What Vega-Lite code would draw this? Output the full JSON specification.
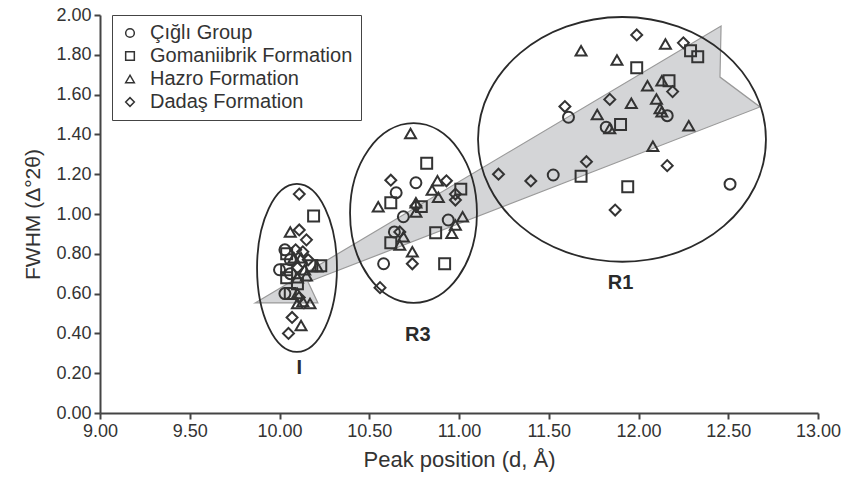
{
  "$schema": "https://vega.github.io/schema/vega-lite/v6.json",
  "width": 718,
  "height": 398,
  "autosize": {"type": "none"},
  "padding": {"left": 100, "top": 15, "right": 25, "bottom": 71},
  "background": "white",
  "config": {
    "view": {"stroke": null},
    "font": "Liberation Sans",
    "axis": {"grid": false, "domainColor": "#444", "domainWidth": 2, "tickColor": "#444", "tickWidth": 2, "tickSize": 6, "labelColor": "#333", "titleColor": "#333", "labelFont": "Liberation Sans", "titleFont": "Liberation Sans", "titleFontWeight": "normal", "labelFlush": false, "labelOverlap": false}
  },
  "datasets": {
    "arrow": [
      {"x": 9.864, "y": 0.553, "i": 1},
      {"x": 12.46, "y": 1.945, "i": 2},
      {"x": 12.454, "y": 1.688, "i": 3},
      {"x": 12.677, "y": 1.538, "i": 4},
      {"x": 10.159, "y": 0.658, "i": 5},
      {"x": 10.214, "y": 0.553, "i": 6}
    ],
    "ell": [
      {"g": "I", "i": 1, "x": 10.097, "y": 1.151},
      {"g": "I", "i": 2, "x": 10.32, "y": 0.729},
      {"g": "I", "i": 3, "x": 10.097, "y": 0.307},
      {"g": "I", "i": 4, "x": 9.875, "y": 0.729},
      {"g": "R3", "i": 1, "x": 10.747, "y": 1.457},
      {"g": "R3", "i": 2, "x": 11.10, "y": 1.005},
      {"g": "R3", "i": 3, "x": 10.747, "y": 0.553},
      {"g": "R3", "i": 4, "x": 10.393, "y": 1.005},
      {"g": "R1", "i": 1, "x": 11.91, "y": 1.99},
      {"g": "R1", "i": 2, "x": 12.71, "y": 1.375},
      {"g": "R1", "i": 3, "x": 11.91, "y": 0.76},
      {"g": "R1", "i": 4, "x": 11.106, "y": 1.375}
    ],
    "labels": [
      {"t": "I", "x": 10.11, "y": 0.226},
      {"t": "R3", "x": 10.77, "y": 0.39},
      {"t": "R1", "x": 11.9, "y": 0.653}
    ],
    "pts": [
      {"s": "Çığlı Group", "x": 10.03, "y": 0.82},
      {"s": "Çığlı Group", "x": 10.06, "y": 0.77},
      {"s": "Çığlı Group", "x": 10.00, "y": 0.72},
      {"s": "Çığlı Group", "x": 10.06, "y": 0.70},
      {"s": "Çığlı Group", "x": 10.03, "y": 0.60},
      {"s": "Çığlı Group", "x": 10.76, "y": 1.157},
      {"s": "Çığlı Group", "x": 10.65, "y": 1.107},
      {"s": "Çığlı Group", "x": 10.69, "y": 0.986},
      {"s": "Çığlı Group", "x": 10.94, "y": 0.97},
      {"s": "Çığlı Group", "x": 10.64, "y": 0.91},
      {"s": "Çığlı Group", "x": 10.58, "y": 0.75},
      {"s": "Çığlı Group", "x": 12.16, "y": 1.494},
      {"s": "Çığlı Group", "x": 11.61, "y": 1.486},
      {"s": "Çığlı Group", "x": 11.82, "y": 1.436},
      {"s": "Çığlı Group", "x": 11.525, "y": 1.196},
      {"s": "Çığlı Group", "x": 12.51, "y": 1.15},
      {"s": "Gomaniibrik Formation", "x": 10.19, "y": 0.99},
      {"s": "Gomaniibrik Formation", "x": 10.04, "y": 0.80},
      {"s": "Gomaniibrik Formation", "x": 10.23, "y": 0.74},
      {"s": "Gomaniibrik Formation", "x": 10.18, "y": 0.74},
      {"s": "Gomaniibrik Formation", "x": 10.04, "y": 0.72},
      {"s": "Gomaniibrik Formation", "x": 10.04, "y": 0.68},
      {"s": "Gomaniibrik Formation", "x": 10.10, "y": 0.65},
      {"s": "Gomaniibrik Formation", "x": 10.06, "y": 0.60},
      {"s": "Gomaniibrik Formation", "x": 10.82, "y": 1.255},
      {"s": "Gomaniibrik Formation", "x": 11.01, "y": 1.125},
      {"s": "Gomaniibrik Formation", "x": 10.62, "y": 1.057},
      {"s": "Gomaniibrik Formation", "x": 10.79, "y": 1.037},
      {"s": "Gomaniibrik Formation", "x": 10.87, "y": 0.906},
      {"s": "Gomaniibrik Formation", "x": 10.62, "y": 0.856},
      {"s": "Gomaniibrik Formation", "x": 10.92, "y": 0.75},
      {"s": "Gomaniibrik Formation", "x": 12.29, "y": 1.82},
      {"s": "Gomaniibrik Formation", "x": 12.33, "y": 1.79},
      {"s": "Gomaniibrik Formation", "x": 11.99, "y": 1.735},
      {"s": "Gomaniibrik Formation", "x": 12.17, "y": 1.67},
      {"s": "Gomaniibrik Formation", "x": 11.90, "y": 1.45},
      {"s": "Gomaniibrik Formation", "x": 11.68, "y": 1.19},
      {"s": "Gomaniibrik Formation", "x": 11.94, "y": 1.137},
      {"s": "Hazro Formation", "x": 10.06, "y": 0.91},
      {"s": "Hazro Formation", "x": 10.08, "y": 0.78},
      {"s": "Hazro Formation", "x": 10.12, "y": 0.78},
      {"s": "Hazro Formation", "x": 10.21, "y": 0.735},
      {"s": "Hazro Formation", "x": 10.14, "y": 0.72},
      {"s": "Hazro Formation", "x": 10.10, "y": 0.68},
      {"s": "Hazro Formation", "x": 10.15, "y": 0.69},
      {"s": "Hazro Formation", "x": 10.10, "y": 0.60},
      {"s": "Hazro Formation", "x": 10.10, "y": 0.55},
      {"s": "Hazro Formation", "x": 10.13, "y": 0.56},
      {"s": "Hazro Formation", "x": 10.17, "y": 0.55},
      {"s": "Hazro Formation", "x": 10.12, "y": 0.44},
      {"s": "Hazro Formation", "x": 10.73, "y": 1.405},
      {"s": "Hazro Formation", "x": 10.88, "y": 1.167},
      {"s": "Hazro Formation", "x": 10.85, "y": 1.12},
      {"s": "Hazro Formation", "x": 10.885, "y": 1.084},
      {"s": "Hazro Formation", "x": 10.55, "y": 1.037},
      {"s": "Hazro Formation", "x": 10.76, "y": 1.057},
      {"s": "Hazro Formation", "x": 10.76, "y": 1.01},
      {"s": "Hazro Formation", "x": 11.02, "y": 0.986},
      {"s": "Hazro Formation", "x": 10.98, "y": 0.945},
      {"s": "Hazro Formation", "x": 10.96, "y": 0.903},
      {"s": "Hazro Formation", "x": 10.69, "y": 0.886},
      {"s": "Hazro Formation", "x": 10.67, "y": 0.844},
      {"s": "Hazro Formation", "x": 10.74, "y": 0.81},
      {"s": "Hazro Formation", "x": 11.68, "y": 1.82},
      {"s": "Hazro Formation", "x": 12.15, "y": 1.854},
      {"s": "Hazro Formation", "x": 11.88, "y": 1.774},
      {"s": "Hazro Formation", "x": 12.05, "y": 1.645},
      {"s": "Hazro Formation", "x": 12.13, "y": 1.67},
      {"s": "Hazro Formation", "x": 11.96, "y": 1.556},
      {"s": "Hazro Formation", "x": 12.10, "y": 1.578},
      {"s": "Hazro Formation", "x": 12.12, "y": 1.53},
      {"s": "Hazro Formation", "x": 12.13, "y": 1.514},
      {"s": "Hazro Formation", "x": 11.77, "y": 1.50},
      {"s": "Hazro Formation", "x": 11.84, "y": 1.43},
      {"s": "Hazro Formation", "x": 12.28, "y": 1.444},
      {"s": "Hazro Formation", "x": 12.08, "y": 1.34},
      {"s": "Dadaş Formation", "x": 10.11, "y": 1.10},
      {"s": "Dadaş Formation", "x": 10.11, "y": 0.92},
      {"s": "Dadaş Formation", "x": 10.15, "y": 0.87},
      {"s": "Dadaş Formation", "x": 10.09, "y": 0.82},
      {"s": "Dadaş Formation", "x": 10.13, "y": 0.81},
      {"s": "Dadaş Formation", "x": 10.16, "y": 0.77},
      {"s": "Dadaş Formation", "x": 10.10, "y": 0.73},
      {"s": "Dadaş Formation", "x": 10.11, "y": 0.58},
      {"s": "Dadaş Formation", "x": 10.07, "y": 0.48},
      {"s": "Dadaş Formation", "x": 10.05, "y": 0.40},
      {"s": "Dadaş Formation", "x": 10.62, "y": 1.17},
      {"s": "Dadaş Formation", "x": 10.93, "y": 1.167},
      {"s": "Dadaş Formation", "x": 10.98, "y": 1.10},
      {"s": "Dadaş Formation", "x": 10.98, "y": 1.07},
      {"s": "Dadaş Formation", "x": 10.76, "y": 1.04},
      {"s": "Dadaş Formation", "x": 10.67, "y": 0.91},
      {"s": "Dadaş Formation", "x": 10.74, "y": 0.75},
      {"s": "Dadaş Formation", "x": 10.56, "y": 0.63},
      {"s": "Dadaş Formation", "x": 11.99, "y": 1.90},
      {"s": "Dadaş Formation", "x": 12.25, "y": 1.86},
      {"s": "Dadaş Formation", "x": 12.19, "y": 1.615},
      {"s": "Dadaş Formation", "x": 11.84, "y": 1.576},
      {"s": "Dadaş Formation", "x": 11.59, "y": 1.54},
      {"s": "Dadaş Formation", "x": 11.71, "y": 1.263},
      {"s": "Dadaş Formation", "x": 12.16, "y": 1.243},
      {"s": "Dadaş Formation", "x": 11.22, "y": 1.20},
      {"s": "Dadaş Formation", "x": 11.40, "y": 1.166},
      {"s": "Dadaş Formation", "x": 11.87, "y": 1.02}
    ]
  },
  "layer": [
    {
      "data": {"name": "arrow"},
      "mark": {"type": "line", "interpolate": "linear-closed", "fill": "#d4d5d7", "stroke": "#9a9a9a", "strokeWidth": 1.2},
      "encoding": {
        "x": {"field": "x", "type": "quantitative", "scale": {"domain": [9, 13], "nice": false, "zero": false},
          "axis": {"title": "Peak position (d, Å)", "values": [9, 9.5, 10, 10.5, 11, 11.5, 12, 12.5, 13], "format": ".2f", "labelFontSize": 18, "titleFontSize": 22, "labelPadding": 3, "titlePadding": 9, "labelOverlap": false}},
        "y": {"field": "y", "type": "quantitative", "scale": {"domain": [0, 2], "nice": false, "zero": false},
          "axis": {"title": "FWHM (Δ°2θ)", "values": [0, 0.2, 0.4, 0.6, 0.8, 1.0, 1.2, 1.4, 1.6, 1.8, 2.0], "tickCount": 11, "format": ".2f", "labelFontSize": 18, "titleFontSize": 21, "labelPadding": 3, "titlePadding": 12, "labelOverlap": false, "labelBound": false}},
        "order": {"field": "i", "type": "quantitative"}
      }
    },
    {
      "data": {"name": "ell"},
      "mark": {"type": "line", "interpolate": "cardinal-closed", "tension": -0.657, "stroke": "#2a2a2a", "strokeWidth": 1.8},
      "encoding": {
        "x": {"field": "x", "type": "quantitative"},
        "y": {"field": "y", "type": "quantitative"},
        "detail": {"field": "g"},
        "order": {"field": "i", "type": "quantitative"}
      }
    },
    {
      "data": {"name": "pts"},
      "mark": {"type": "point", "filled": false, "color": "#333", "strokeWidth": 2, "size": 120, "opacity": 1},
      "encoding": {
        "x": {"field": "x", "type": "quantitative"},
        "y": {"field": "y", "type": "quantitative"},
        "shape": {"field": "s", "type": "nominal",
          "scale": {"domain": ["Çığlı Group", "Gomaniibrik Formation", "Hazro Formation", "Dadaş Formation"], "range": ["circle", "square", "triangle-up", "diamond"]},
          "legend": {"title": null, "orient": "none", "legendX": 12, "legendY": 0, "strokeColor": "#444", "fillColor": "white", "padding": 8, "labelFontSize": 20, "labelLimit": 400, "labelFont": "Liberation Sans", "labelColor": "#333", "symbolSize": 75, "symbolStrokeWidth": 1.5, "symbolStrokeColor": "#333", "rowPadding": 3, "labelOffset": 10}}
      }
    },
    {
      "data": {"name": "labels"},
      "mark": {"type": "text", "fontSize": 20, "fontWeight": "bold", "color": "#2a2a2a", "align": "center", "baseline": "middle", "font": "Liberation Sans"},
      "encoding": {
        "x": {"field": "x", "type": "quantitative"},
        "y": {"field": "y", "type": "quantitative"},
        "text": {"field": "t"}
      }
    }
  ]
}
